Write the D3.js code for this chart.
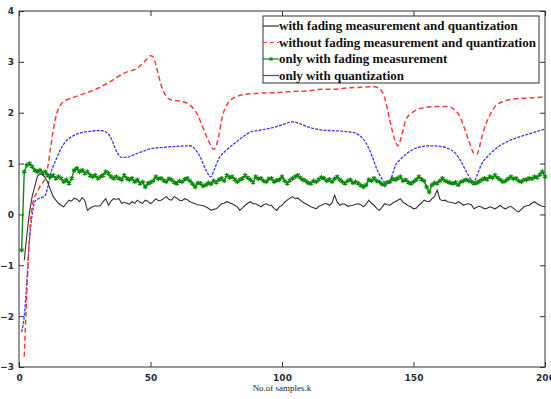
<!DOCTYPE html>
<html>
  <head>
    <meta charset="utf-8">
    <title></title>
    <script type="text/javascript" src="https://d3js.org/d3.v7.min.js"></script>
    <style media="screen">
      body { margin: 0; background: #fff; }
      .tick text { font-family: "DejaVu Sans", sans-serif; font-weight: bold; font-size: 9px; fill: #2a2f3a; }
      .serif { font-family: "Liberation Serif", "Times New Roman", "DejaVu Serif", serif; }
    </style>
  </head>
  <body>
    <script type="text/javascript">

      var w = 551;
      var h = 399;
      var m = {left: 19, right: 6, top: 11, bottom: 32};

      var xTicks = [0, 50, 100, 150, 200];
      var yTicks = [-3, -2, -1, 0, 1, 2, 3, 4];

      var legendNames = [
        "with fading measurement and quantization",
        "without fading measurement and quantization",
        "only with fading measurement",
        "only with quantization"
      ];

      // black: with fading measurement and quantization, k = 2..200
      var blackStart = 2;
      var blackVals = [
        -0.90, -0.40, 0.05, 0.35, 0.55, 0.75, 0.80, 0.78, 0.72,
        0.62, 0.48, 0.35, 0.28, 0.22, 0.18, 0.15, 0.22, 0.28, 0.26,
        0.32, 0.30, 0.25, 0.33, 0.28, 0.08, 0.12, 0.15, 0.17, 0.16,
        0.18, 0.25, 0.31, 0.18, 0.26, 0.31, 0.30, 0.31, 0.22, 0.24,
        0.22, 0.20, 0.25, 0.22, 0.28, 0.24, 0.22, 0.28, 0.26, 0.21,
        0.25, 0.31, 0.27, 0.28, 0.31, 0.35, 0.30, 0.28, 0.35, 0.32,
        0.28, 0.27, 0.31, 0.29, 0.25, 0.23, 0.21, 0.19, 0.18, 0.17,
        0.15, 0.12, 0.08, 0.10, 0.11, 0.16, 0.21, 0.22, 0.25, 0.23,
        0.21, 0.18, 0.15, 0.08, 0.13, 0.18, 0.22, 0.25, 0.21, 0.21,
        0.18, 0.15, 0.19, 0.21, 0.18, 0.18, 0.12, 0.08, 0.15, 0.18,
        0.24, 0.28, 0.32, 0.35, 0.31, 0.32, 0.28, 0.24, 0.21, 0.18,
        0.15, 0.13, 0.11, 0.16, 0.18, 0.21, 0.21, 0.18, 0.22, 0.38,
        0.24, 0.18, 0.21, 0.20, 0.16, 0.17, 0.18, 0.20, 0.21, 0.19,
        0.15, 0.20, 0.28, 0.22, 0.18, 0.12, 0.08, 0.14, 0.21, 0.19,
        0.18, 0.22, 0.25, 0.28, 0.31, 0.24, 0.21, 0.17, 0.15, 0.11,
        0.12, 0.18, 0.22, 0.28, 0.26, 0.25, 0.31, 0.35, 0.48, 0.30,
        0.27, 0.28, 0.25, 0.24, 0.23, 0.21, 0.25, 0.22, 0.18, 0.20,
        0.21, 0.19, 0.11, 0.14, 0.16, 0.14, 0.11, 0.12, 0.15, 0.13,
        0.11, 0.14, 0.18, 0.13, 0.11, 0.14, 0.16, 0.12, 0.08, 0.05,
        0.10, 0.15, 0.17, 0.18, 0.22, 0.25, 0.21, 0.18, 0.16, 0.15
      ];

      // green: only with fading measurement, k = 1..200
      var greenStart = 1;
      var greenVals = [
        -0.70, 0.84, 0.97, 1.00, 0.94, 0.87, 0.84, 0.87, 0.81, 0.84,
        0.77, 0.74, 0.77, 0.71, 0.74, 0.71, 0.64, 0.68, 0.61, 0.71,
        0.87, 0.91, 0.84, 0.87, 0.81, 0.84, 0.77, 0.74, 0.77, 0.71,
        0.74, 0.77, 0.84, 0.81, 0.74, 0.71, 0.74, 0.71, 0.68, 0.77,
        0.71, 0.68, 0.71, 0.64, 0.68, 0.61, 0.64, 0.54, 0.61, 0.63,
        0.66, 0.74, 0.70, 0.71, 0.67, 0.64, 0.70, 0.68, 0.63, 0.61,
        0.66, 0.64, 0.69, 0.71, 0.66, 0.60, 0.54, 0.62, 0.61, 0.56,
        0.58, 0.62, 0.60, 0.66, 0.63, 0.68, 0.71, 0.66, 0.77, 0.73,
        0.74, 0.69, 0.64, 0.68, 0.71, 0.77, 0.72, 0.68, 0.63, 0.74,
        0.70, 0.71, 0.66, 0.64, 0.70, 0.71, 0.64, 0.67, 0.68, 0.74,
        0.66, 0.61, 0.67, 0.71, 0.74, 0.77, 0.72, 0.68, 0.66, 0.62,
        0.61, 0.66, 0.64, 0.69, 0.73, 0.71, 0.66, 0.69, 0.64, 0.70,
        0.74, 0.68, 0.64, 0.61, 0.66, 0.68, 0.62, 0.64, 0.61, 0.57,
        0.54, 0.58, 0.68, 0.66, 0.71, 0.66, 0.64, 0.60, 0.58, 0.63,
        0.64, 0.70, 0.68, 0.71, 0.74, 0.66, 0.68, 0.63, 0.61, 0.64,
        0.68, 0.74, 0.69, 0.66, 0.54, 0.44, 0.58, 0.62, 0.61, 0.66,
        0.71, 0.66, 0.64, 0.62, 0.61, 0.63, 0.58, 0.64, 0.66, 0.68,
        0.66, 0.64, 0.61, 0.62, 0.65, 0.68, 0.71, 0.69, 0.74, 0.72,
        0.77, 0.72, 0.68, 0.64, 0.66, 0.70, 0.74, 0.70, 0.71, 0.66,
        0.64, 0.68, 0.68, 0.71, 0.70, 0.74, 0.73, 0.78, 0.84, 0.74
      ];

      // red dashed: without fading measurement and quantization (sample k, value)
      var redK = [2, 3, 4, 5, 6, 7, 8, 9, 10, 11, 12, 13, 14, 15, 16, 18, 20, 25, 30, 35,
        40, 45, 48, 50, 51, 52, 54, 56, 58, 62, 65, 68, 70, 72, 74, 76, 77, 79, 82, 86,
        90, 95, 100, 105, 110, 115, 120, 125, 130, 135, 137, 139, 141, 143, 144, 146, 147, 150, 153, 158,
        163, 165, 167, 169, 171, 173, 174, 176, 177, 179, 181, 184, 188, 194, 200];
      var redVals = [-2.80, -1.50, -0.40, 0.15, 0.35, 0.45, 0.55, 0.62, 0.72, 0.95, 1.30, 1.65, 1.92, 2.08, 2.17, 2.25, 2.29, 2.38, 2.48, 2.62,
        2.78, 2.88, 3.02, 3.12, 3.10, 2.95, 2.55, 2.32, 2.25, 2.22, 2.15, 1.95, 1.70, 1.45, 1.28, 1.55, 1.85, 2.15, 2.30, 2.36,
        2.38, 2.39, 2.40, 2.42, 2.43, 2.46, 2.46, 2.49, 2.50, 2.51, 2.48, 2.30, 1.85, 1.45, 1.35, 1.65, 1.85, 2.02, 2.09, 2.12,
        2.12, 2.08, 1.98, 1.75, 1.45, 1.20, 1.18, 1.52, 1.70, 1.95, 2.12, 2.22, 2.27, 2.29, 2.31];

      // blue: only with quantization (sample k, value)
      var blueK = [1, 2, 3, 4, 5, 6, 7, 8, 9, 10, 11, 12, 13, 14, 16, 18, 20, 22, 25, 28,
        31, 33, 35, 37, 39, 41, 43, 46, 50, 55, 60, 65, 67, 69, 71, 73, 74, 76, 79, 82,
        85, 88, 92, 96, 100, 104, 107, 110, 114, 118, 122, 126, 129, 132, 134, 136, 138, 140, 142, 143,
        145, 148, 152, 156, 160, 163, 166, 168, 170, 172, 173, 174, 176, 178, 182, 186, 190, 195, 200];
      var blueVals = [-2.31, -2.00, -1.30, -0.50, 0.00, 0.25, 0.30, 0.32, 0.34, 0.38, 0.55, 0.80, 0.95, 1.07, 1.30, 1.45, 1.53, 1.58, 1.62, 1.64,
        1.65, 1.62, 1.50, 1.25, 1.12, 1.12, 1.16, 1.22, 1.29, 1.32, 1.34, 1.35, 1.28, 1.12, 0.88, 0.74, 0.85, 1.10, 1.27, 1.40,
        1.52, 1.62, 1.66, 1.70, 1.76, 1.82, 1.78, 1.72, 1.67, 1.65, 1.64, 1.62, 1.57, 1.40, 1.18, 0.90, 0.70, 0.61, 0.78, 0.95,
        1.08, 1.22, 1.32, 1.35, 1.34, 1.30, 1.20, 1.05, 0.85, 0.68, 0.64, 0.75, 1.00, 1.13, 1.32, 1.44, 1.52, 1.60, 1.68];

      var colors = ["#333333", "#ff3b3b", "#0a8a0a", "#3a3aff"];

      var svg = d3.select("body").append("svg")
        .attr("width", w)
        .attr("height", h);

      var xscale = d3.scaleLinear().domain([0, 200]).range([m.left, w - m.right]);
      var yscale = d3.scaleLinear().domain([-3, 4]).range([h - m.bottom, m.top]);

      // axes, ticks pointing inward like matlab
      var xAxis = d3.axisBottom(xscale).tickValues(xTicks).tickFormat(d3.format("d")).tickSizeInner(-5).tickSizeOuter(0).tickPadding(8);
      var xTop = d3.axisTop(xscale).tickValues(xTicks).tickSizeInner(-5).tickSizeOuter(0).tickFormat("");
      var yAxis = d3.axisLeft(yscale).tickValues(yTicks).tickFormat(d3.format("d")).tickSizeInner(-5).tickSizeOuter(0).tickPadding(5);
      var yRight = d3.axisRight(yscale).tickValues(yTicks).tickSizeInner(-5).tickSizeOuter(0).tickFormat("");

      svg.append("g").attr("transform", "translate(0," + (h - m.bottom) + ")").call(xAxis);
      svg.append("g").attr("transform", "translate(0," + m.top + ")").call(xTop);
      svg.append("g").attr("transform", "translate(" + m.left + ",0)").call(yAxis);
      svg.append("g").attr("transform", "translate(" + (w - m.right) + ",0)").call(yRight);
      svg.selectAll(".domain").remove();
      svg.selectAll(".tick line").attr("stroke", "#333");

      svg.append("rect")
        .attr("x", m.left).attr("y", m.top)
        .attr("width", w - m.left - m.right)
        .attr("height", h - m.top - m.bottom)
        .attr("fill", "none")
        .attr("stroke", "#333")
        .attr("stroke-width", 1);

      var line = d3.line()
        .x(function(d){ return xscale(d.k); })
        .y(function(d){ return yscale(d.v); });

      var smooth = d3.line()
        .curve(d3.curveMonotoneX)
        .x(function(d){ return xscale(d.k); })
        .y(function(d){ return yscale(d.v); });

      var black = blackVals.map(function(v, i){ return {k: blackStart + i, v: v}; });
      var green = greenVals.map(function(v, i){ return {k: greenStart + i, v: v}; });
      var red = redVals.map(function(v, i){ return {k: redK[i], v: v}; });
      var blue = blueVals.map(function(v, i){ return {k: blueK[i], v: v}; });

      var plot = svg.append("g");

      plot.append("path").datum(blue)
        .attr("d", smooth)
        .attr("fill", "none")
        .attr("stroke", colors[3])
        .attr("stroke-width", 1.3)
        .attr("stroke-dasharray", "3,1.2");

      plot.append("path").datum(red)
        .attr("d", smooth)
        .attr("fill", "none")
        .attr("stroke", colors[1])
        .attr("stroke-width", 1.5)
        .attr("stroke-dasharray", "5,3");

      plot.append("path").datum(green)
        .attr("d", line)
        .attr("fill", "none")
        .attr("stroke", colors[2])
        .attr("stroke-width", 1.4);

      plot.selectAll(".star")
        .data(green)
        .enter()
        .append("path")
        .attr("class", "star")
        .attr("transform", function(d){ return "translate(" + xscale(d.k) + "," + yscale(d.v) + ")"; })
        .attr("d", d3.symbol(d3.symbolAsterisk, 16))
        .attr("fill", "none")
        .attr("stroke", colors[2])
        .attr("stroke-width", 1.2);

      plot.append("path").datum(black)
        .attr("d", line)
        .attr("fill", "none")
        .attr("stroke", colors[0])
        .attr("stroke-width", 1.1);

      // x label
      svg.append("text")
        .attr("class", "serif")
        .attr("x", xscale(100))
        .attr("y", 391)
        .attr("text-anchor", "middle")
        .style("font-size", "9px")
        .style("fill", "#222")
        .text("No.of samples.k");

      // legend
      var lg = svg.append("g").attr("transform", "translate(263,16)");
      lg.append("rect")
        .attr("width", 276).attr("height", 67)
        .attr("fill", "#fff")
        .attr("stroke", "#333")
        .attr("stroke-width", 1);

      var rows = lg.selectAll(".row")
        .data(legendNames)
        .enter()
        .append("g")
        .attr("transform", function(d, i){ return "translate(0," + (10 + i * 16.5) + ")"; });

      rows.append("line")
        .attr("x1", 0).attr("x2", 16)
        .attr("stroke", function(d, i){ return colors[i]; })
        .attr("stroke-width", 1.2)
        .attr("stroke-dasharray", function(d, i){ return i == 1 ? "4,3" : null; });

      rows.filter(function(d, i){ return i == 2; })
        .append("path")
        .attr("transform", "translate(8,0)")
        .attr("d", d3.symbol(d3.symbolAsterisk, 14))
        .attr("stroke", colors[2])
        .attr("fill", "none");

      rows.append("text")
        .attr("class", "serif")
        .attr("x", 16)
        .attr("y", 4)
        .style("font-size", "13px")
        .style("font-weight", "bold")
        .style("fill", "#111")
        .text(function(d){ return d; });

    </script>
  </body>
</html>
